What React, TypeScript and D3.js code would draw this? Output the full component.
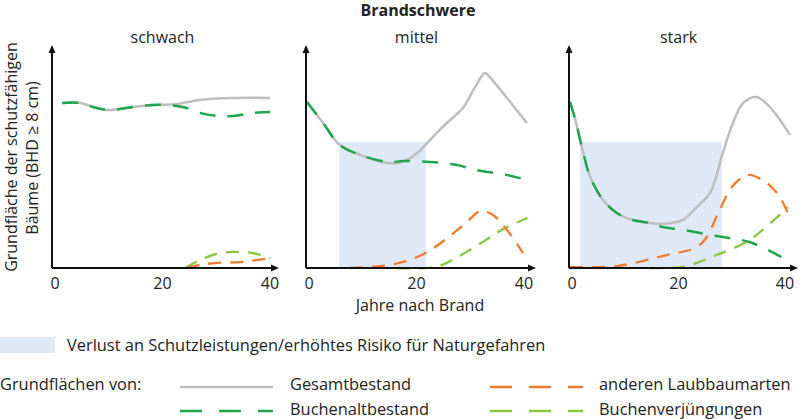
import React from "react";
import * as d3 from "d3";

// ---------- data ----------
const panelTitles = ["schwach", "mittel", "stark"];
const xTicks = [0, 20, 40];

// schwach
const p1GesamtYears = [1.7, 5, 8.2, 10.6, 14.9, 18.6, 23, 27.3, 33.5, 40.4];
const p1GesamtVals = [75, 75, 72.7, 71.8, 73.2, 74.1, 74.5, 76.4, 77.3, 77.3];
const p1AltYears = [1.7, 5, 8.2, 10.6, 14.9, 18.6, 21, 24.2, 27.3, 30.5, 33.5, 37.2, 40.4];
const p1AltVals = [75, 75, 72.7, 71.8, 73.2, 74.1, 74.1, 73.2, 70.5, 69.1, 69.1, 70.5, 70.9];
const p1LaubYears = [24.9, 27.3, 30.5, 34.8, 40.4];
const p1LaubVals = [0, 1.4, 2.3, 2.7, 4.5];
const p1VerjYears = [24.6, 27.3, 30.5, 33.5, 37.2, 40.4];
const p1VerjVals = [0, 3.6, 6.4, 7.3, 6.8, 4.5];

// mittel
const p2GesamtYears = [0, 3, 6.1, 9.9, 14.9, 17, 18.6, 20.5, 22.9, 26, 29, 31.3, 33.1, 34, 37.2, 40.9];
const p2GesamtVals = [75.5, 65.9, 55.9, 51.4, 47.7, 47.7, 49.1, 52.3, 58.2, 65.9, 72.7, 82.3, 88.6, 86.8, 77.3, 65.9];
const p2AltYears = [0, 3, 6.1, 9.9, 14.9, 18, 22.9, 27.9, 31.6, 37.2, 41];
const p2AltVals = [75.5, 65.9, 55.9, 51.4, 48.2, 48.6, 48.2, 46.8, 44.5, 42.3, 40];
const p2LaubYears = [8, 15.4, 20, 23, 28, 30.5, 32.2, 34.6, 37.2, 40.2];
const p2LaubVals = [0, 1.4, 4.5, 8.2, 17.3, 22.7, 25.9, 24.1, 17.3, 6.8];
const p2VerjYears = [16.7, 24, 28, 32.7, 36.5, 41];
const p2VerjVals = [0, 0.5, 5, 11.8, 17.7, 22.7];

// stark
const p3GesamtYears = [0, 1, 2.5, 3.8, 6.2, 8.8, 11.8, 15, 16.9, 19, 21.2, 23.8, 26.3, 28.7, 30.6, 32.5, 35, 37.5, 41.3];
const p3GesamtVals = [75.5, 67.3, 52.3, 41.4, 30.9, 25, 21.8, 20.5, 20, 20.5, 21.8, 27.7, 34.1, 52.3, 65.9, 75, 77.7, 73.2, 60.5];
const p3AltYears = [0, 1, 2.5, 3.8, 6.2, 8.8, 11.8, 15, 17.4, 21.2, 27.5, 33.7, 39.7];
const p3AltVals = [75.5, 67.3, 52.3, 41.4, 30.9, 25, 21.8, 20.5, 18.6, 17.3, 14.5, 11.8, 5];
const p3LaubYears = [0, 8.8, 18.2, 23.8, 25.7, 27.5, 30.4, 32.5, 33.7, 37, 39.4, 40.9];
const p3LaubVals = [0.5, 0.9, 5.9, 9.5, 14.1, 23.2, 36.8, 41.4, 42.3, 38.6, 32.3, 25];
const p3VerjYears = [15, 21.2, 27.5, 33.7, 40.9];
const p3VerjVals = [0, 0.5, 5.9, 12.7, 27.7];

// loss-of-protection periods (years) and level
const lossStart = [null, 6, 1.9];
const lossEnd = [null, 22.1, 28.5];
const lossTop = 57.3;

const legendSeries = ["Gesamtbestand", "Buchenaltbestand", "anderen Laubbaumarten", "Buchenverjüngungen"];

// ---------- styling ----------
const W = 800;
const H = 419;
const FONT = "'Open Sans', 'Noto Sans', sans-serif";
const TXT = "#222";
const C_GRAY = "#bebebe";
const C_ALT = "#1fa64c";
const C_LAUB = "#ef7d30";
const C_VERJ = "#8cc540";
const C_LOSS = "#dfe8f7";

const panelX = [
  [53, 268],
  [307, 522],
  [570, 783],
];
const axisEnd = [279, 536, 798];
const baseY = 268;

const yScale = d3.scaleLinear().domain([0, 100]).range([baseY, 48]);

const zip = (xs: number[], ys: number[]) => xs.map((x, i) => [x, ys[i]] as [number, number]);

const panels = [
  {
    ges: zip(p1GesamtYears, p1GesamtVals),
    alt: zip(p1AltYears, p1AltVals),
    laub: zip(p1LaubYears, p1LaubVals),
    verj: zip(p1VerjYears, p1VerjVals),
  },
  {
    ges: zip(p2GesamtYears, p2GesamtVals),
    alt: zip(p2AltYears, p2AltVals),
    laub: zip(p2LaubYears, p2LaubVals),
    verj: zip(p2VerjYears, p2VerjVals),
  },
  {
    ges: zip(p3GesamtYears, p3GesamtVals),
    alt: zip(p3AltYears, p3AltVals),
    laub: zip(p3LaubYears, p3LaubVals),
    verj: zip(p3VerjYears, p3VerjVals),
  },
];

const DASH_ALT = "16,12";
const DASH_SMALL = "13,9";

function Panel({ i }: { i: number }) {
  const xs = d3.scaleLinear().domain([0, 40]).range(panelX[i]);
  const line = d3
    .line<[number, number]>()
    .x((d) => xs(d[0]))
    .y((d) => yScale(d[1]))
    .curve(d3.curveCatmullRom.alpha(0.5));
  const p = panels[i];
  const x0 = xs(0) - 1;
  const ls = lossStart[i];
  const le = lossEnd[i];
  return (
    <g>
      {ls !== null && le !== null && (
        <rect
          x={xs(ls)}
          y={yScale(lossTop)}
          width={xs(le) - xs(ls)}
          height={baseY - yScale(lossTop)}
          fill={C_LOSS}
        />
      )}
      <path d={line(p.ges) || ""} fill="none" stroke={C_GRAY} strokeWidth={2.5} />
      <path d={line(p.alt) || ""} fill="none" stroke={C_ALT} strokeWidth={2.5} strokeDasharray={DASH_ALT} />
      <path d={line(p.verj) || ""} fill="none" stroke={C_VERJ} strokeWidth={2.3} strokeDasharray={DASH_SMALL} />
      <path d={line(p.laub) || ""} fill="none" stroke={C_LAUB} strokeWidth={2.3} strokeDasharray={DASH_SMALL} />
      {/* axes */}
      <line x1={x0} y1={baseY} x2={x0} y2={52} stroke="#111" strokeWidth={2} />
      <path d={`M${x0 - 3.5},${53} L${x0},${45} L${x0 + 3.5},${53} Z`} fill="#111" />
      <line x1={x0} y1={baseY} x2={axisEnd[i] - 6} y2={baseY} stroke="#111" strokeWidth={2} />
      <path d={`M${axisEnd[i] - 8},${baseY - 3.5} L${axisEnd[i]},${baseY} L${axisEnd[i] - 8},${baseY + 3.5} Z`} fill="#111" />
      {xTicks.map((t) => (
        <text key={t} x={xs(t) + 2} y={288.5} textAnchor="middle" fontSize={16} fill={TXT} fontFamily={FONT}>
          {t}
        </text>
      ))}
      <text
        x={(panelX[i][0] + panelX[i][1]) / 2 + 2}
        y={43}
        textAnchor="middle"
        fontSize={16}
        fill={TXT}
        fontFamily={FONT}
      >
        {panelTitles[i]}
      </text>
    </g>
  );
}

export default function App() {
  const legendTextStyle = { fontSize: 16.4, fill: TXT, fontFamily: FONT } as const;
  return (
    <svg width={W} height={H} style={{ position: "absolute", left: 0, top: 0, background: "#fff" }}>
      <text x={418} y={16} textAnchor="middle" fontSize={16} fontWeight="bold" fill={TXT} fontFamily={FONT}>
        Brandschwere
      </text>
      {[0, 1, 2].map((i) => (
        <Panel key={i} i={i} />
      ))}
      <g transform="translate(16.5,157) rotate(-90)">
        <text textAnchor="middle" fontSize={16} fill={TXT} fontFamily={FONT}>
          Grundfläche der schutzfähigen
        </text>
      </g>
      <g transform="translate(37.5,158) rotate(-90)">
        <text textAnchor="middle" fontSize={16} fill={TXT} fontFamily={FONT}>
          Bäume (BHD ≥ 8 cm)
        </text>
      </g>
      <text x={420} y={311} textAnchor="middle" fontSize={16} fill={TXT} fontFamily={FONT}>
        Jahre nach Brand
      </text>

      {/* legend */}
      <rect x={0} y={337} width={55} height={16} fill={C_LOSS} />
      <text x={67} y={351} {...legendTextStyle}>
        Verlust an Schutzleistungen/erhöhtes Risiko für Naturgefahren
      </text>
      <text x={0} y={390} {...legendTextStyle}>
        Grundflächen von:
      </text>
      <line x1={180} y1={387} x2={273} y2={387} stroke={C_GRAY} strokeWidth={2.5} />
      <text x={290} y={390} {...legendTextStyle}>
        {legendSeries[0]}
      </text>
      <line x1={180} y1={411} x2={273} y2={411} stroke={C_ALT} strokeWidth={2.5} strokeDasharray="22,17" />
      <text x={290} y={415} {...legendTextStyle}>
        {legendSeries[1]}
      </text>
      <line x1={490} y1={387} x2={583} y2={387} stroke={C_LAUB} strokeWidth={2.5} strokeDasharray="22,17" />
      <text x={599} y={390} {...legendTextStyle}>
        {legendSeries[2]}
      </text>
      <line x1={490} y1={411} x2={583} y2={411} stroke={C_VERJ} strokeWidth={2.5} strokeDasharray="22,17" />
      <text x={599} y={415} {...legendTextStyle}>
        {legendSeries[3]}
      </text>
    </svg>
  );
}
